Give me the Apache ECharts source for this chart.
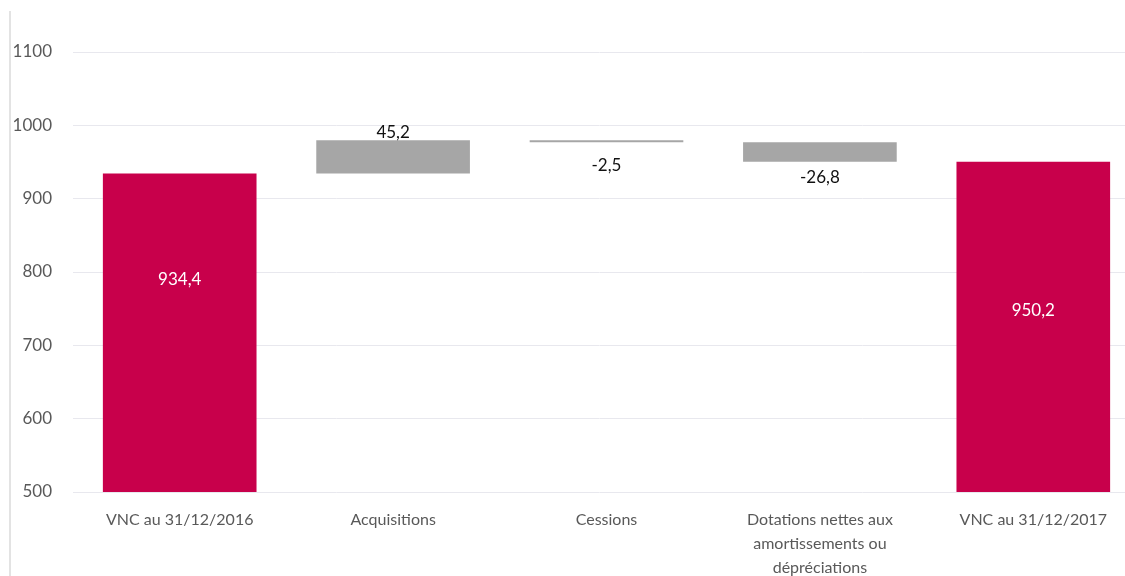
<!DOCTYPE html>
<html>
<head>
<meta charset="utf-8">
<script src="https://cdn.jsdelivr.net/npm/echarts@6/dist/echarts.min.js"></script>
<style>
    html, body { margin: 0; padding: 0; background: #fff; }
    #chart { width: 1125px; height: 576px; }
</style>
</head>
<body>
<div id="chart"></div>
<script>
// waterfall: first and last are totals, the rest are changes
var categories = [
    "VNC au 31/12/2016",
    "Acquisitions",
    "Cessions",
    "Dotations nettes aux\namortissements ou\ndépréciations",
    "VNC au 31/12/2017"
];
var values = [934.4, 45.2, -2.5, -26.8, 950.2];
var isTotal = [true, false, false, false, true];
var yTicks = { min: 500, max: 1100, step: 100 };

var red = "#C8004B", grey = "#A6A6A6";

var baseData = [], barData = [];
var running = 0;
for (var i = 0; i < values.length; i++) {
    var v = values[i];
    var txt = String(v).replace(".", ",");
    if (isTotal[i]) {
        running = v;
        baseData.push(0);
        barData.push({
            value: v,
            itemStyle: { color: red },
            label: {
                show: true, position: "inside", color: "#fff",
                offset: [0, i == 0 ? -53 : -16],
                formatter: txt
            }
        });
    } else {
        var low = v >= 0 ? running : running + v;
        baseData.push(low);
        barData.push({
            value: Math.abs(v),
            itemStyle: { color: grey },
            label: {
                show: true,
                position: v >= 0 ? "top" : "bottom",
                distance: v >= 0 ? -1 : (i == 2 ? 15 : 7),
                color: "#111",
                formatter: txt
            }
        });
        running += v;
    }
}

var chart = echarts.init(document.getElementById("chart"));
chart.setOption({
    animation: false,
    textStyle: { fontFamily: "Lato" },
    grid: { left: 73, right: -15, top: 52, bottom: 84, outerBoundsMode: "none", containLabel: false },
    graphic: [{
        type: "line",
        shape: { x1: 10, y1: 11, x2: 10, y2: 576 },
        style: { stroke: "#E3E3E3", lineWidth: 2 }
    }],
    xAxis: {
        type: "category",
        data: categories,
        axisLine: { show: false },
        axisTick: { show: false },
        axisLabel: {
            interval: 0,
            margin: 16,
            fontSize: 16,
            lineHeight: 24,
            color: "#595959"
        }
    },
    yAxis: {
        type: "value",
        min: yTicks.min,
        max: yTicks.max,
        interval: yTicks.step,
        axisLine: { show: false },
        axisTick: { show: false },
        axisLabel: {
            fontSize: 17, color: "#595959", margin: 21,
            formatter: function (val) { return String(val); }
        },
        splitLine: { lineStyle: { color: "#E8E8EE", width: 1 } }
    },
    series: [
        {
            type: "bar",
            stack: "w",
            barWidth: "72%",
            itemStyle: { color: "transparent" },
            data: baseData,
            silent: true
        },
        {
            type: "bar",
            stack: "w",
            barWidth: "72%",
            label: { fontSize: 17 },
            data: barData
        }
    ]
});
</script>
</body>
</html>
